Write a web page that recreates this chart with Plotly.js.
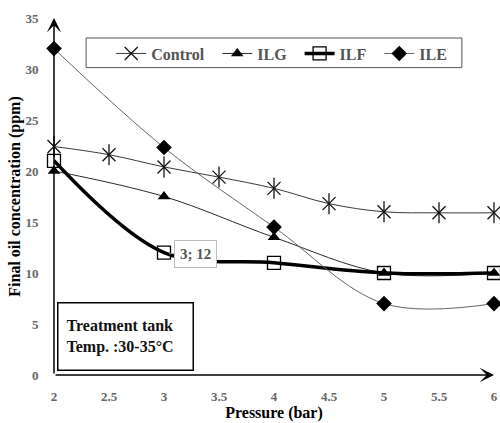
<!DOCTYPE html>
<html>
<head>
<meta charset="utf-8">
<script src="https://cdn.plot.ly/plotly-3.0.1.min.js"></script>
<style>html,body{margin:0;padding:0;background:#fff;}#chart{width:500px;height:423px;}</style>
</head>
<body>
<div id="chart"></div>
<script>
// Data
const pressureControl = [2, 2.5, 3, 3.5, 4, 4.5, 5, 5.5, 6];
const controlValues = [22.4, 21.6, 20.4, 19.4, 18.3, 16.8, 16.0, 15.9, 15.9];
const pressureIL = [2, 3, 4, 5, 6];
const ilgValues = [20.0, 17.5, 13.5, 10.0, 10.0];
const ilfValues = [21.0, 12.0, 11.0, 10.0, 10.0];
const ileValues = [32.0, 22.3, 14.5, 7.0, 7.0];
const seriesNames = ['Control', 'ILG', 'ILF', 'ILE'];
const xTicks = [2, 2.5, 3, 3.5, 4, 4.5, 5, 5.5, 6];
const yTicks = [0, 5, 10, 15, 20, 25, 30, 35];

const serif = 'Times New Roman, Liberation Serif, serif';
const pad = '\u00a0\u00a0';
const b = s => '<b>' + s + '</b>';

const traces = [
  {
    x: pressureControl, y: controlValues, name: b(seriesNames[0]) + pad, type: 'scatter', mode: 'lines+markers',
    line: {color: '#3a3a3a', width: 1, shape: 'spline', smoothing: 1},
    marker: {symbol: 'x-thin-open', size: 13, color: '#111', line: {width: 1.3, color: '#111'}},
    cliponaxis: false
  },
  {
    x: pressureControl, y: controlValues, name: seriesNames[0], type: 'scatter', mode: 'markers',
    showlegend: false, hoverinfo: 'skip',
    marker: {symbol: 'line-ns-open', size: 15, color: '#111', line: {width: 1.3, color: '#111'}},
    cliponaxis: false
  },
  {
    x: pressureIL, y: ilgValues, name: b(seriesNames[1]) + pad, type: 'scatter', mode: 'lines+markers',
    line: {color: '#2a2a2a', width: 1, shape: 'spline', smoothing: 1},
    marker: {symbol: 'triangle-up', size: 11, color: '#000'},
    cliponaxis: false
  },
  {
    x: pressureIL, y: ilfValues, name: b(seriesNames[2]) + pad, type: 'scatter', mode: 'lines+markers',
    line: {color: '#000', width: 3.5, shape: 'spline', smoothing: 1},
    marker: {symbol: 'square-open', size: 13, color: '#000', line: {width: 1.3, color: '#000'}},
    cliponaxis: false
  },
  {
    x: pressureIL, y: ileValues, name: b(seriesNames[3]), type: 'scatter', mode: 'lines+markers',
    line: {color: '#666', width: 1, shape: 'spline', smoothing: 1},
    marker: {symbol: 'diamond', size: 12, color: '#000'},
    cliponaxis: false
  }
];

const layout = {
  width: 500, height: 423,
  margin: {l: 54, r: 6, t: 18, b: 48},
  paper_bgcolor: '#fff', plot_bgcolor: '#fff',
  font: {family: serif},
  showlegend: true,
  legend: {
    orientation: 'h', x: 0.13, y: 0.948, xanchor: 'left', yanchor: 'top',
    bgcolor: 'rgba(0,0,0,0)', borderwidth: 0,
    font: {family: serif, size: 16, color: '#555'},
    itemwidth: 30
  },
  xaxis: {
    range: [2, 6], tickvals: xTicks, ticktext: xTicks.map(v => b(String(v))),
    showgrid: false, zeroline: false, showline: false,
    ticks: 'outside', ticklen: 9, tickcolor: 'rgba(0,0,0,0)',
    tickfont: {family: serif, size: 13, color: '#666'},
    title: {text: b('Pressure (bar)'), font: {family: serif, size: 16, color: '#000'}, standoff: 2}
  },
  yaxis: {
    range: [0, 35], tickvals: yTicks, ticktext: yTicks.map(v => b(String(v))),
    showgrid: false, zeroline: false, showline: false,
    ticks: 'outside', ticklen: 12, tickcolor: 'rgba(0,0,0,0)',
    tickfont: {family: serif, size: 13, color: '#666'},
    title: {text: b('Final oil concentration (ppm)'), font: {family: serif, size: 16, color: '#000'}, standoff: 0}
  },
  shapes: [
    {type: 'rect', xref: 'paper', yref: 'paper', x0: 0.073, x1: 0.927, y0: 0.861, y1: 0.944,
     line: {color: '#555', width: 1}, fillcolor: 'rgba(0,0,0,0)', layer: 'below'}
  ],
  annotations: [
    {x: 6, y: 0, ax: 2, ay: 0, xref: 'x', yref: 'y', axref: 'x', ayref: 'y', text: '',
     showarrow: true, arrowhead: 3, arrowsize: 1.6, arrowwidth: 1.5, arrowcolor: '#000', standoff: 0, startstandoff: 0},
    {x: 2, y: 35, ax: 2, ay: 0, xref: 'x', yref: 'y', axref: 'x', ayref: 'y', text: '',
     showarrow: true, arrowhead: 3, arrowsize: 1.6, arrowwidth: 1.5, arrowcolor: '#000', standoff: 0, startstandoff: 0},
    {x: 3.05, y: 11.9, xref: 'x', yref: 'y', text: b('3; 12'), showarrow: true, arrowhead: 0, arrowwidth: 1,
     arrowcolor: '#999', ax: 26, ay: 0, xanchor: 'center',
     font: {family: serif, size: 15, color: '#555'}, bgcolor: '#fff', bordercolor: '#bbb', borderwidth: 1, borderpad: 5},
    {x: 0.007, y: 0.205, xref: 'paper', yref: 'paper', xanchor: 'left', yanchor: 'top', align: 'left',
     text: b('Treatment tank<br>Temp. :30-35°C'), showarrow: false,
     font: {family: serif, size: 16, color: '#111'}, bgcolor: '#fff', bordercolor: '#000', borderwidth: 1.5,
     borderpad: 8, width: 118, height: 50}
  ]
};

Plotly.newPlot('chart', traces, layout, {displayModeBar: false, staticPlot: true});
</script>
</body>
</html>
